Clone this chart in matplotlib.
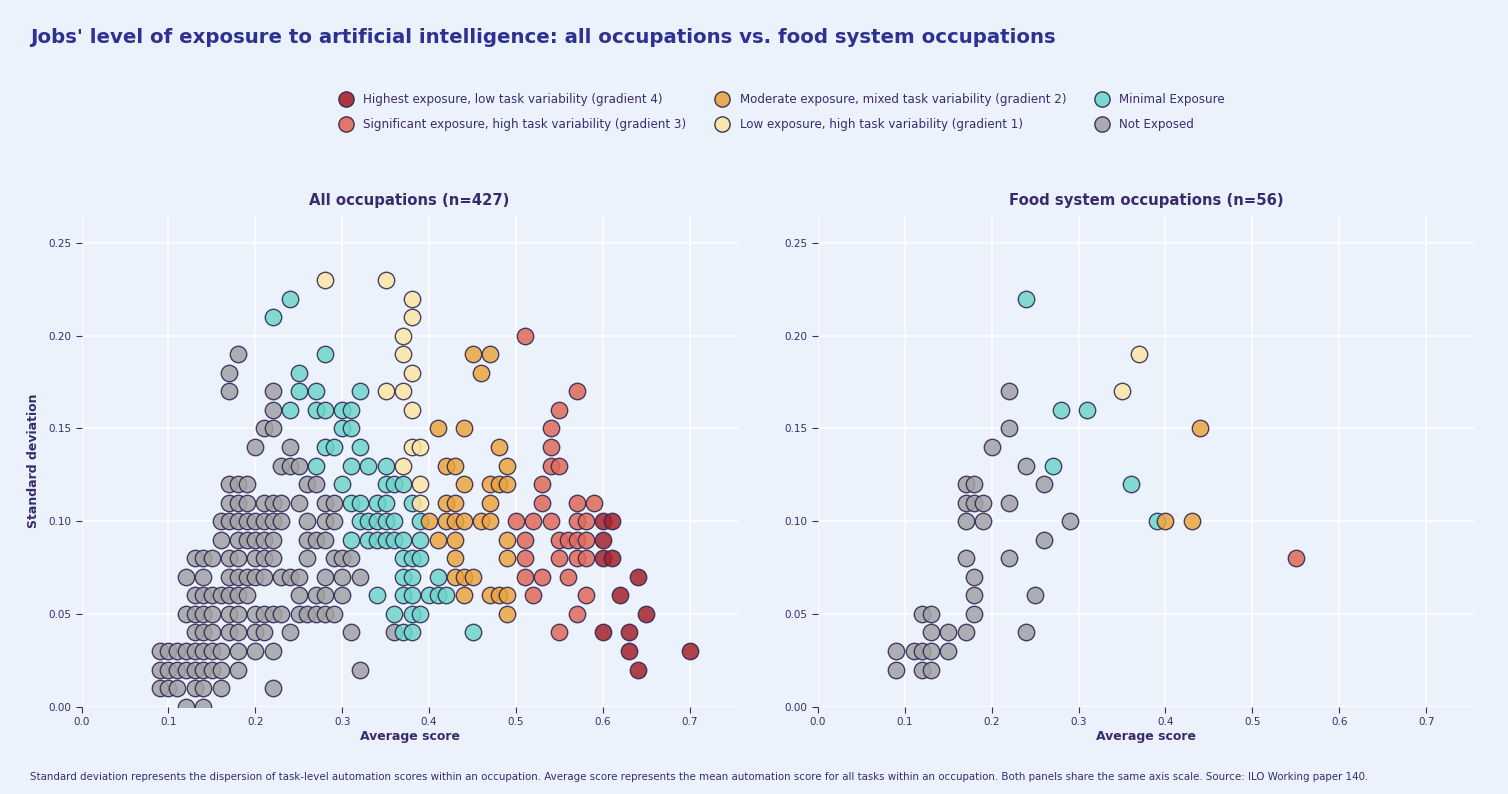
import numpy as np
import matplotlib
matplotlib.use("Agg")
from matplotlib import pyplot as plt
from matplotlib.lines import Line2D

# rows of (standard deviation, [average scores])
all_g4 = [
    (0.10, [0.60, 0.61]), (0.09, [0.60]), (0.08, [0.60, 0.61]), (0.07, [0.64]),
    (0.06, [0.62]), (0.05, [0.65]), (0.04, [0.60, 0.63]), (0.03, [0.63, 0.70]),
    (0.02, [0.64]),
]
all_g3 = [
    (0.20, [0.51]), (0.17, [0.57]), (0.16, [0.55]), (0.15, [0.54]), (0.14, [0.54]),
    (0.13, [0.54, 0.55]), (0.12, [0.53]), (0.11, [0.53, 0.57, 0.59]),
    (0.10, [0.50, 0.52, 0.54, 0.57, 0.58]), (0.09, [0.51, 0.55, 0.56, 0.57, 0.58]),
    (0.08, [0.51, 0.55, 0.57, 0.58]), (0.07, [0.51, 0.53, 0.56]), (0.06, [0.52, 0.58]),
    (0.05, [0.57]), (0.04, [0.55]),
]
all_g2 = [
    (0.19, [0.45, 0.47]), (0.18, [0.46]), (0.15, [0.41, 0.44]), (0.14, [0.48]),
    (0.13, [0.42, 0.43, 0.49]), (0.12, [0.44, 0.47, 0.48, 0.49]), (0.11, [0.42, 0.43, 0.47]),
    (0.10, [0.40, 0.42, 0.43, 0.44, 0.46, 0.47]), (0.09, [0.41, 0.43, 0.49]),
    (0.08, [0.43, 0.49]), (0.07, [0.43, 0.44, 0.45]), (0.06, [0.44, 0.47, 0.48, 0.49]),
    (0.05, [0.49]),
]
all_g1 = [
    (0.23, [0.28, 0.35]), (0.22, [0.38]), (0.21, [0.38]), (0.20, [0.37]), (0.19, [0.37]),
    (0.18, [0.38]), (0.17, [0.35, 0.37]), (0.16, [0.38]), (0.14, [0.38, 0.39]),
    (0.13, [0.37]), (0.12, [0.39]), (0.11, [0.39]),
]
all_min = [
    (0.22, [0.24]), (0.21, [0.22]), (0.19, [0.28]), (0.18, [0.25]),
    (0.17, [0.25, 0.27, 0.32]), (0.16, [0.24, 0.27, 0.28, 0.30, 0.31]), (0.15, [0.30, 0.31]),
    (0.14, [0.28, 0.29, 0.32]), (0.13, [0.27, 0.31, 0.33, 0.35]),
    (0.12, [0.30, 0.35, 0.36, 0.37]), (0.11, [0.31, 0.32, 0.34, 0.35, 0.38]),
    (0.10, [0.32, 0.33, 0.34, 0.35, 0.36, 0.39]),
    (0.09, [0.31, 0.33, 0.34, 0.35, 0.36, 0.37, 0.39]), (0.08, [0.37, 0.38, 0.39]),
    (0.07, [0.37, 0.38, 0.41]), (0.06, [0.34, 0.37, 0.38, 0.40, 0.41, 0.42]),
    (0.05, [0.36, 0.38, 0.39]), (0.04, [0.37, 0.38, 0.45]),
]
all_none = [
    (0.19, [0.18]), (0.18, [0.17]), (0.17, [0.17, 0.22]), (0.16, [0.22]),
    (0.15, [0.21, 0.22]), (0.14, [0.20, 0.24]), (0.13, [0.23, 0.24, 0.25]),
    (0.12, [0.17, 0.18, 0.19, 0.26, 0.27]),
    (0.11, [0.17, 0.18, 0.19, 0.21, 0.22, 0.23, 0.25, 0.28, 0.29]),
    (0.10, [0.16, 0.17, 0.18, 0.19, 0.20, 0.21, 0.22, 0.23, 0.26, 0.28, 0.29]),
    (0.09, [0.16, 0.18, 0.19, 0.20, 0.21, 0.22, 0.26, 0.27, 0.28]),
    (0.08, [0.13, 0.14, 0.15, 0.17, 0.18, 0.20, 0.21, 0.22, 0.26, 0.29, 0.30, 0.31]),
    (0.07, [0.12, 0.14, 0.17, 0.18, 0.19, 0.20, 0.21, 0.23, 0.24, 0.25, 0.28, 0.30, 0.32]),
    (0.06, [0.13, 0.14, 0.15, 0.16, 0.17, 0.18, 0.19, 0.25, 0.27, 0.28, 0.30]),
    (0.05, [0.12, 0.13, 0.14, 0.15, 0.17, 0.18, 0.20, 0.21, 0.22, 0.23, 0.25, 0.26, 0.27, 0.28, 0.29]),
    (0.04, [0.13, 0.14, 0.15, 0.17, 0.18, 0.20, 0.21, 0.24, 0.31, 0.36]),
    (0.03, [0.09, 0.10, 0.11, 0.12, 0.13, 0.14, 0.15, 0.16, 0.18, 0.20, 0.22]),
    (0.02, [0.09, 0.10, 0.11, 0.12, 0.13, 0.14, 0.15, 0.16, 0.18, 0.32]),
    (0.01, [0.09, 0.10, 0.11, 0.13, 0.14, 0.16, 0.22]),
    (0.00, [0.12, 0.14]),
]

food_g4 = []
food_g3 = [(0.08, [0.55])]
food_g2 = [(0.15, [0.44]), (0.10, [0.40, 0.43])]
food_g1 = [(0.19, [0.37]), (0.17, [0.35])]
food_min = [(0.22, [0.24]), (0.16, [0.28, 0.31]), (0.13, [0.27]), (0.12, [0.36]), (0.10, [0.39])]
food_none = [
    (0.17, [0.22]), (0.15, [0.22]), (0.14, [0.20]), (0.13, [0.24]),
    (0.12, [0.17, 0.18, 0.26]), (0.11, [0.17, 0.18, 0.19, 0.22]), (0.10, [0.17, 0.19, 0.29]),
    (0.09, [0.26]), (0.08, [0.17, 0.22]), (0.07, [0.18]), (0.06, [0.18, 0.25]),
    (0.05, [0.12, 0.13, 0.18]), (0.04, [0.13, 0.15, 0.17, 0.24]),
    (0.03, [0.09, 0.11, 0.12, 0.13, 0.15]), (0.02, [0.09, 0.12, 0.13]),
]

labels = ["Highest exposure, low task variability (gradient 4)",
          "Significant exposure, high task variability (gradient 3)",
          "Moderate exposure, mixed task variability (gradient 2)",
          "Low exposure, high task variability (gradient 1)",
          "Minimal Exposure",
          "Not Exposed"]
colors = ["#a5222c", "#e06a5a", "#eaa53f", "#fce6a4", "#6fd5ca", "#a3a3a6"]

all_groups = [all_g4, all_g3, all_g2, all_g1, all_min, all_none]
food_groups = [food_g4, food_g3, food_g2, food_g1, food_min, food_none]

bg = "#ebf2fc"
ink = "#3a2b6c"
edge = "#2c2250"

def expand(rows):
    xs, ys = [], []
    for sd, scores in rows:
        for s in scores:
            xs.append(s)
            ys.append(sd)
    return np.array(xs), np.array(ys)

fig = plt.figure(figsize=(15.08, 7.94), dpi=100, facecolor=bg)
ax1 = fig.add_axes([0.0541, 0.110, 0.435, 0.619])
ax2 = fig.add_axes([0.5424, 0.110, 0.435, 0.619])

for ax, groups, title in [(ax1, all_groups, "All occupations (n=427)"),
                          (ax2, food_groups, "Food system occupations (n=56)")]:
    ax.set_facecolor(bg)
    # grey first, darkest red last (drawn on top)
    for i in range(len(groups) - 1, -1, -1):
        x, y = expand(groups[i])
        if len(x) == 0:
            continue
        ax.scatter(x, y, s=140, c=colors[i], edgecolors=edge, linewidths=1.0,
                   alpha=0.85, zorder=3 + (5 - i))
    ax.set_xlim(0, 0.755)
    ax.set_ylim(0, 0.265)
    ax.set_xticks(np.arange(0, 0.71, 0.1))
    ax.set_yticks(np.arange(0, 0.251, 0.05))
    ax.set_xticklabels(["%.1f" % v for v in np.arange(0, 0.71, 0.1)])
    ax.set_yticklabels(["%.2f" % v for v in np.arange(0, 0.251, 0.05)])
    ax.grid(True, color="white", linewidth=1.1, zorder=0)
    ax.set_axisbelow(True)
    for sp in ax.spines.values():
        sp.set_visible(False)
    ax.tick_params(colors=ink, labelsize=7.5, length=4, width=0.8, direction="out")
    ax.set_xlabel("Average score", fontsize=9, fontweight="bold", color=ink, labelpad=2)
    ax.set_title(title, fontsize=10.7, fontweight="bold", color=ink, pad=7)

ax1.set_ylabel("Standard deviation", fontsize=9, fontweight="bold", color=ink, labelpad=6)

handles = [Line2D([], [], marker="o", linestyle="", markersize=11,
                  markerfacecolor=colors[i], markeredgecolor=edge,
                  markeredgewidth=1.0, alpha=0.9) for i in range(6)]
fig.legend(handles, labels, loc="center", bbox_to_anchor=(0.517, 0.859), ncol=3,
           frameon=False, fontsize=8.6, labelcolor=ink, columnspacing=2.0,
           handletextpad=0.45, labelspacing=1.0)

fig.text(0.02, 0.953, "Jobs' level of exposure to artificial intelligence: all occupations vs. food system occupations",
         fontsize=14.2, fontweight="bold", color="#2e3192", va="center")
fig.text(0.02, 0.021, "Standard deviation represents the dispersion of task-level automation scores within an occupation. "
         "Average score represents the mean automation score for all tasks within an occupation. "
         "Both panels share the same axis scale. Source: ILO Working paper 140.",
         fontsize=7.4, color=ink, va="center")

fig.savefig("out.png", dpi=100, facecolor=bg)
